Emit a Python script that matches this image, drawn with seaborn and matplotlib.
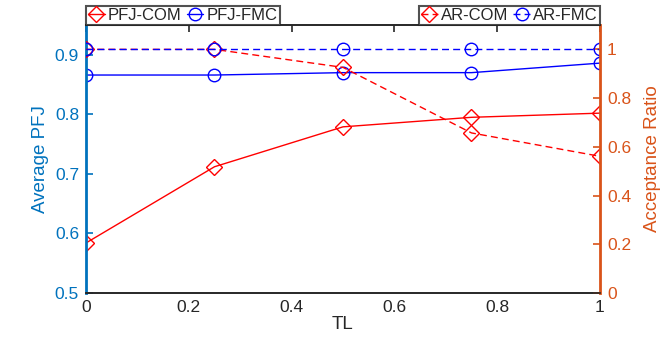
import matplotlib
matplotlib.use("Agg")
import matplotlib.pyplot as plt
import pandas as pd
import seaborn as sns
from matplotlib.lines import Line2D
from matplotlib.ticker import FormatStrFormatter

# data
tl = [0, 0.25, 0.5, 0.75, 1.0]
pfj_com = [0.584, 0.712, 0.779, 0.795, 0.802]
pfj_fmc = [0.866, 0.866, 0.870, 0.870, 0.886]
ar_com = [1.0, 1.0, 0.926, 0.657, 0.561]
ar_fmc = [1.0, 1.0, 1.0, 1.0, 1.0]

x_ticks = [0, 0.2, 0.4, 0.6, 0.8, 1]
left_ticks = [0.5, 0.6, 0.7, 0.8, 0.9]
right_ticks = [0, 0.2, 0.4, 0.6, 0.8, 1]

sns.set_style("white")
plt.rcParams["font.family"] = ["Liberation Sans", "DejaVu Sans"]

LEFT_C = "#0072BD"
RIGHT_C = "#D95319"
AX_C = "#262626"
DASH = (0, (5, 3))
TICK_FS = 12.5
LABEL_FS = 13.5

df = pd.DataFrame({"TL": tl, "PFJ-COM": pfj_com, "PFJ-FMC": pfj_fmc,
                   "AR-COM": ar_com, "AR-FMC": ar_fmc})

fig = plt.figure(figsize=(6.64, 3.41), dpi=100)
ax = fig.add_axes([86 / 664, 1 - 293 / 341, (600 - 86) / 664, (293 - 25) / 341])
ax2 = ax.twinx()

styles = {
    "PFJ-COM": (ax, "red", "D", "-"),
    "PFJ-FMC": (ax, "blue", "o", "-"),
    "AR-COM": (ax2, "red", "D", DASH),
    "AR-FMC": (ax2, "blue", "o", DASH),
}
handles = {}
for name, (a, color, marker, ls) in styles.items():
    ms = 9 if marker == "o" else 8
    sns.lineplot(data=df, x="TL", y=name, ax=a, color=color, marker=marker,
                 linestyle=ls, linewidth=1.0, markersize=ms,
                 markerfacecolor="none", markeredgecolor=color,
                 markeredgewidth=1.0, errorbar=None, legend=False)
    handles[name] = Line2D([], [], color=color, marker=marker, linestyle=ls,
                           linewidth=1.0, markersize=ms,
                           markerfacecolor="none", markeredgecolor=color)

ax.set_xlim(0, 1)
ax.set_ylim(0.5, 0.95)
ax2.set_ylim(0, 1.1)
ax.set_xticks(x_ticks)
ax.set_yticks(left_ticks)
ax2.set_yticks(right_ticks)
ax.xaxis.set_major_formatter(FormatStrFormatter("%g"))
ax.yaxis.set_major_formatter(FormatStrFormatter("%g"))
ax2.yaxis.set_major_formatter(FormatStrFormatter("%g"))

ax.set_xlabel("TL", fontsize=LABEL_FS, color=AX_C, labelpad=1)
ax.set_ylabel("Average PFJ", fontsize=LABEL_FS, color=LEFT_C, labelpad=4)
ax2.set_ylabel("Acceptance Ratio", fontsize=LABEL_FS, color=RIGHT_C, labelpad=9)

ax.tick_params(axis="x", direction="in", top=True, length=5, width=1.2,
               colors=AX_C, labelsize=TICK_FS, pad=5)
ax.tick_params(axis="y", direction="in", length=5, width=1.2,
               colors=LEFT_C, labelsize=TICK_FS, pad=5)
ax2.tick_params(axis="y", direction="in", length=5, width=1.2,
                colors=RIGHT_C, labelsize=TICK_FS, pad=5)

for a in (ax, ax2):
    a.spines["top"].set_color(AX_C)
    a.spines["bottom"].set_color(AX_C)
    a.spines["top"].set_linewidth(1.2)
    a.spines["bottom"].set_linewidth(1.2)
ax.spines["left"].set_color(LEFT_C)
ax.spines["left"].set_linewidth(2)
ax.spines["right"].set_visible(False)
ax2.spines["left"].set_visible(False)
ax2.spines["right"].set_color(RIGHT_C)
ax2.spines["right"].set_linewidth(2)

leg_kw = dict(ncol=2, frameon=True, fancybox=False, fontsize=12,
              handlelength=1.0, handletextpad=0.2, columnspacing=0.3,
              borderpad=0.12, borderaxespad=0)
leg1 = ax2.legend([handles["PFJ-COM"], handles["PFJ-FMC"]], ["PFJ-COM", "PFJ-FMC"],
                  loc="lower left", bbox_to_anchor=(0, 1), **leg_kw)
leg1.get_frame().set_edgecolor(AX_C)
leg1.get_frame().set_linewidth(1.5)
ax2.add_artist(leg1)
leg2 = ax2.legend([handles["AR-COM"], handles["AR-FMC"]], ["AR-COM", "AR-FMC"],
                  loc="lower right", bbox_to_anchor=(1, 1), **leg_kw)
leg2.get_frame().set_edgecolor(AX_C)
leg2.get_frame().set_linewidth(1.5)

fig.savefig("out.png", dpi=100)
plt.close(fig)
